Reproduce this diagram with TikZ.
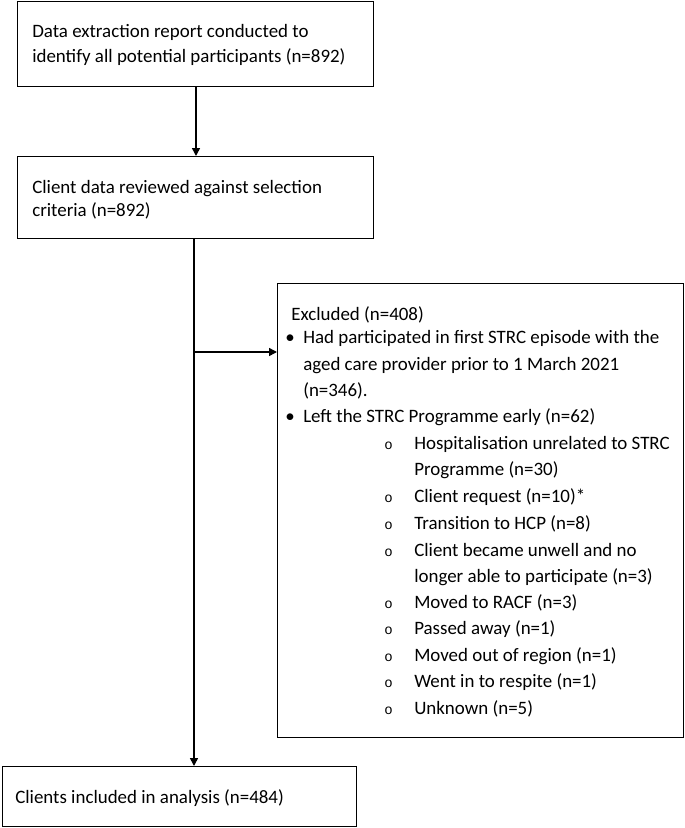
\documentclass[tikz,border=0pt]{standalone}
\usepackage{fontspec}
\setmainfont{Carlito}
\newfontfamily\monofnt{Liberation Mono}
\usetikzlibrary{arrows.meta}
\begin{document}
\begin{tikzpicture}[x=0.75pt,y=-0.75pt,
  box/.style={draw=black,line width=1.1pt,anchor=north west,inner sep=0pt},
  txt/.style={anchor=base west,inner sep=0pt,font=\fontsize{14.2}{16}\selectfont},
  conn/.style={line width=1.1pt,-{Triangle[length=6pt,width=6pt]}},
  plain/.style={line width=1.1pt}]
\useasboundingbox (0,0) rectangle (685,828);
% boxes
\node[box,minimum width=356*0.75pt,minimum height=85*0.75pt] (b1) at (17,1) {};
\node[box,minimum width=356*0.75pt,minimum height=82*0.75pt] (b2) at (17,156) {};
\node[box,minimum width=406*0.75pt,minimum height=454*0.75pt] (ex) at (277,283) {};
\node[box,minimum width=354*0.75pt,minimum height=60*0.75pt] (b3) at (2,766) {};
% texts
\node[txt] (t1a) at (32,37) {Data extraction report conducted to};
\node[txt] (t1b) at (32,62) {identify all potential participants (n=892)};
\node[txt] (t2a) at (32,193) {Client data reviewed against selection};
\node[txt] (t2b) at (32,216) {criteria (n=892)};
\node[txt] (t3) at (15,803) {Clients included in analysis (n=484)};
\node[txt] (e0) at (291,320) {Excluded (n=408)};
\node[txt] (eb1) at (285,343) {•};
\node[txt] (e1a) at (303,343) {Had participated in first STRC episode with the};
\node[txt] (e1b) at (303,370) {aged care provider prior to 1 March 2021};
\node[txt] (e1c) at (303,396) {(n=346).};
\node[txt] (eb2) at (285,422) {•};
\node[txt] (e2) at (303,422) {Left the STRC Programme early (n=62)};
\foreach \y/\t [count=\i] in {449/{Hospitalisation unrelated to STRC},
  502/{Client request (n=10)*},529/{Transition to HCP (n=8)},
  556/{Client became unwell and no},608/{Moved to RACF (n=3)},
  634/{Passed away (n=1)},661/{Moved out of region (n=1)},
  687/{Went in to respite (n=1)},714/{Unknown (n=5)}}{
  \node[txt] (sb\i) at (384,\y) {\monofnt\fontsize{10.5}{12}\selectfont o};
  \node[txt] (s\i) at (414,\y) {\t};
}
\node[txt] (s1b) at (414,475) {Programme (n=30)};
\node[txt] (s4b) at (414,582) {longer able to participate (n=3)};
% connectors
\coordinate (a1) at (196,86);
\draw[conn] (a1) -- (a1 |- b2.north);
\coordinate (v0) at (194,238);
\coordinate (j) at (194,352);
\draw[plain] (v0) -- (j);
\draw[conn] (j) -- (j -| ex.west);
\draw[conn] (j) -- (j |- b3.north);
\end{tikzpicture}
\end{document}
